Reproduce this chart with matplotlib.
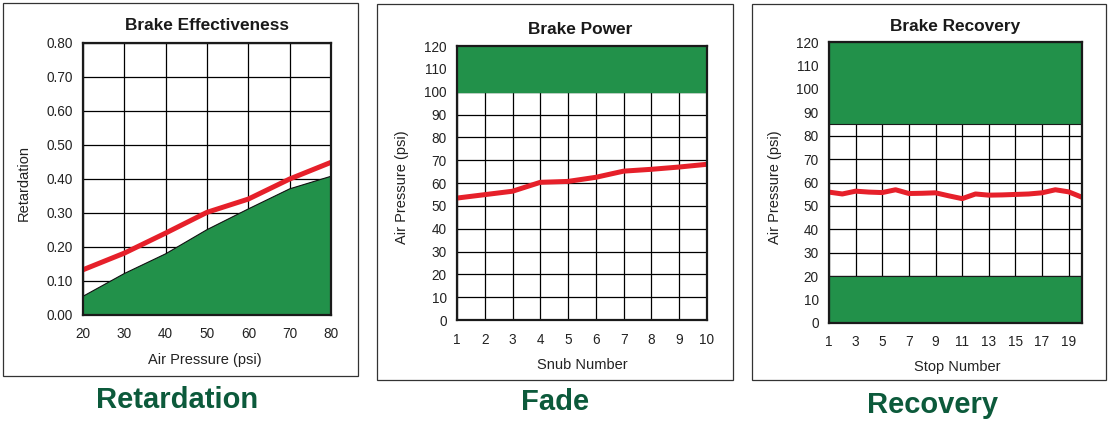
import numpy as np
import matplotlib
matplotlib.use("Agg")
import matplotlib.pyplot as plt
from matplotlib.patches import Rectangle

plt.rcParams['font.family'] = ['Liberation Sans', 'DejaVu Sans']

# data
eff_psi = [20, 30, 40, 50, 60, 70, 80]
eff_red = [0.133, 0.182, 0.241, 0.302, 0.341, 0.400, 0.449]
eff_green = [0.055, 0.122, 0.180, 0.251, 0.312, 0.371, 0.408]

snub = [1, 2, 3, 4, 5, 6, 7, 8, 9, 10]
fade_psi = [53.4, 54.9, 56.4, 60.3, 60.7, 62.5, 65.2, 66.0, 67.0, 68.2]

stop = list(range(1, 21))
recov_psi = [55.9, 55.1, 56.3, 55.9, 55.7, 56.9, 55.3, 55.4, 55.6, 54.3,
             53.1, 55.1, 54.6, 54.7, 54.9, 55.1, 55.6, 56.9, 56.0, 53.7]

green = '#22914a'
red = '#e6202a'
dark_green = '#0c5a3b'

W, H = 1109, 424
fig = plt.figure(figsize=(W / 100, H / 100), dpi=100)


def fx(px):
    return px / W


def fy(py):
    return 1 - py / H


def make_axes(x0, y0, x1, y1):
    ax = fig.add_axes([fx(x0), fy(y1), fx(x1) - fx(x0), fy(y0) - fy(y1)])
    ax.set_axisbelow(True)
    ax.grid(True, color='black', linewidth=0.9)
    ax.tick_params(length=0, labelsize=9.8, colors='#222222')
    ax.tick_params(axis='x', pad=9)
    ax.tick_params(axis='y', pad=7.5)
    for s in ax.spines.values():
        s.set_linewidth(1.6)
        s.set_color('#1a1a1a')
        s.set_zorder(5)
    return ax


# Brake Effectiveness
ax1 = make_axes(83, 43, 331, 315)
ax1.fill_between(eff_psi, 0, eff_green, color=green, zorder=1)
ax1.plot(eff_psi, eff_green, color='#111111', linewidth=0.8, zorder=2)
ax1.plot(eff_psi, eff_red, color=red, linewidth=3.6, zorder=3, solid_capstyle='butt')
ax1.set_xlim(20, 80)
ax1.set_ylim(0, 0.8)
ax1.set_xticks(eff_psi)
ax1.set_yticks(np.arange(0, 0.81, 0.1))
ax1.set_yticklabels(['%.2f' % v for v in np.arange(0, 0.81, 0.1)])

# Brake Power
ax2 = make_axes(457, 46, 707, 320)
ax2.axhspan(100, 120, color=green, zorder=1)
ax2.plot(snub, fade_psi, color=red, linewidth=3.6, zorder=3, solid_capstyle='butt')
ax2.set_xlim(1, 10)
ax2.set_ylim(0, 120)
ax2.set_xticks(snub)
ax2.set_yticks(range(0, 121, 10))

# Brake Recovery
ax3 = make_axes(829, 42, 1082, 323)
ax3.axhspan(85, 120, facecolor=green, edgecolor='#1a1a1a', linewidth=0.8, zorder=1)
ax3.axhspan(0, 20, facecolor=green, edgecolor='#1a1a1a', linewidth=0.8, zorder=1)
ax3.plot(stop, recov_psi, color=red, linewidth=3.6, zorder=3, solid_capstyle='butt')
ax3.set_xlim(1, 20)
ax3.set_ylim(0, 120)
ax3.set_xticks(range(1, 20, 2))
ax3.set_yticks(range(0, 121, 10))

# panel frames
for x0, y0, x1, y1 in [(3, 3, 358, 376), (377, 4, 733, 380), (752, 4, 1106, 380)]:
    fig.patches.append(Rectangle((fx(x0), fy(y1)), fx(x1) - fx(x0), fy(y0) - fy(y1),
                                 transform=fig.transFigure, fill=False,
                                 edgecolor='#333333', linewidth=0.9))

# titles
fig.text(fx(207), fy(25), 'Brake Effectiveness', ha='center', va='center',
         fontsize=12.4, fontweight='bold', color='#1a1a1a')
fig.text(fx(580), fy(30), 'Brake Power', ha='center', va='center',
         fontsize=12.4, fontweight='bold', color='#1a1a1a')
fig.text(fx(955), fy(27), 'Brake Recovery', ha='center', va='center',
         fontsize=12.4, fontweight='bold', color='#1a1a1a')

# axis labels
fig.text(fx(205), fy(360), 'Air Pressure (psi)', ha='center', va='center', fontsize=10.5, color='#222222')
fig.text(fx(582), fy(365), 'Snub Number', ha='center', va='center', fontsize=10.5, color='#222222')
fig.text(fx(957), fy(367), 'Stop Number', ha='center', va='center', fontsize=10.5, color='#222222')
fig.text(fx(24), fy(183), 'Retardation', ha='center', va='center', rotation=90, fontsize=10.5, color='#222222')
fig.text(fx(402), fy(187), 'Air Pressure (psi)', ha='center', va='center', rotation=90, fontsize=10.5, color='#222222')
fig.text(fx(775), fy(187), 'Air Pressure (psi)', ha='center', va='center', rotation=90, fontsize=10.5, color='#222222')

# big captions
fig.text(fx(177), fy(400), 'Retardation', ha='center', va='center',
         fontsize=21, fontweight='bold', color=dark_green)
fig.text(fx(555), fy(402), 'Fade', ha='center', va='center',
         fontsize=21, fontweight='bold', color=dark_green)
fig.text(fx(933), fy(405), 'Recovery', ha='center', va='center',
         fontsize=21, fontweight='bold', color=dark_green)

fig.savefig('out.png', dpi=100)
